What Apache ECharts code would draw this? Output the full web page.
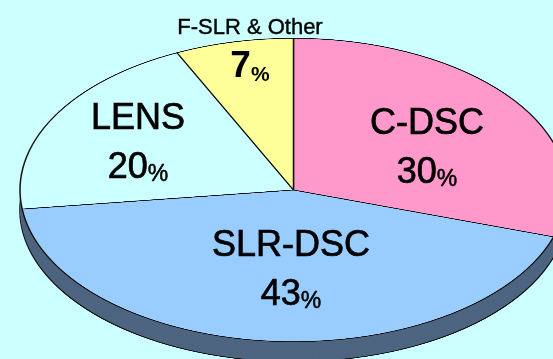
<!DOCTYPE html>
<html>
<head>
<meta charset="utf-8">
<script src="https://cdn.jsdelivr.net/npm/echarts/dist/echarts.min.js"></script>
<style>
  html, body { margin: 0; padding: 0; background: #ccffff; overflow: hidden; }
  #wrap { position: relative; width: 553px; height: 359px; overflow: hidden; background: #ccffff; }
  #disc { position: absolute; left: 0; top: 0; width: 553px; height: 680px; transform-origin: 0 0; }
  #labels { position: absolute; left: 0; top: 0; width: 553px; height: 359px; }
</style>
</head>
<body>
<div id="wrap">
  <div id="disc"></div>
  <div id="labels"></div>
</div>
<script>
// Market share by product segment
const categories = ['C-DSC', 'SLR-DSC', 'LENS', 'F-SLR & Other'];
const shares = [30, 43, 20, 7];

// Slice colours, in category order
const sliceColors = ['#ff99cc', '#99ccff', '#ccffff', '#ffff99'];
const sideColor = '#4e6581';

// Tilted disc: an ellipse with a visible rim
const CX = 293.5, CY = 190, RX = 273.5, RY = 151.7, DEPTH = 20;
const K = RY / RX;

// Label placement as fractions of the ellipse radii along each slice's mid-angle
const labelFx = [0.603, 0.097, 0.649, 0.73];
const labelFy = [0.488, 0.52, 0.663, 0.952];

const FONT = '"Liberation Sans", Arial, sans-serif';

// ---- disc layer: drawn as a circle, squashed vertically into an ellipse ----
const discEl = document.getElementById('disc');
discEl.style.transform = 'scaleY(' + K + ')';
const disc = echarts.init(discEl, null, { renderer: 'canvas', devicePixelRatio: 2 });

const pieData = categories.map((name, i) => ({
  name: name,
  value: shares[i],
  itemStyle: { color: sliceColors[i] }
}));

const series = [];
const LAYERS = 24;
for (let i = 0; i < LAYERS; i++) {
  const off = DEPTH * (LAYERS - i) / LAYERS;
  series.push({
    type: 'pie',
    silent: true,
    animation: false,
    z: 1,
    center: [CX, CY / K + off / K],
    radius: RX,
    startAngle: 90,
    clockwise: true,
    label: { show: false },
    labelLine: { show: false },
    itemStyle: {
      color: sideColor,
      borderColor: i === 0 ? '#111' : sideColor,
      borderWidth: i === 0 ? 1.6 : 0
    },
    data: pieData.map(d => ({ name: d.name, value: d.value }))
  });
}
series.push({
  type: 'pie',
  silent: true,
  animation: false,
  z: 2,
  center: [CX, CY / K],
  radius: RX,
  startAngle: 90,
  clockwise: true,
  label: { show: false },
  labelLine: { show: false },
  itemStyle: { borderColor: '#111', borderWidth: 1.5 },
  data: pieData
});

disc.setOption({ backgroundColor: '#ccffff', animation: false, series: series });

// ---- label layer: a transparent pie whose labels are moved onto the ellipse ----
const labels = echarts.init(document.getElementById('labels'), null, { renderer: 'canvas' });
const total = shares.reduce((a, b) => a + b, 0);

function midAngle(i) {
  let cum = 0;
  for (let j = 0; j < i; j++) cum += shares[j];
  return (cum + shares[i] / 2) / total * Math.PI * 2;
}

// slightly heavier glyphs via a thin outline in the text colour
const ink = { color: '#000', textBorderColor: '#000', textBorderWidth: 0.7 };

labels.setOption({
  backgroundColor: 'transparent',
  animation: false,
  series: [{
    type: 'pie',
    silent: true,
    center: [CX, CY],
    radius: RX,
    startAngle: 90,
    clockwise: true,
    itemStyle: { color: 'rgba(0,0,0,0)', borderWidth: 0 },
    labelLine: { show: false },
    label: {
      show: true,
      position: 'inside',
      color: '#000',
      fontFamily: FONT,
      formatter: function (p) {
        if (p.dataIndex === 3) {
          return '{fn|' + p.name + '}\n{fv|' + p.value + '}{fp|%}';
        }
        return '{n|' + p.name + '}\n{v|' + p.value + '}{p|%}';
      },
      rich: {
        n:  Object.assign({ fontFamily: FONT, fontSize: 36, lineHeight: 45 }, ink),
        v:  Object.assign({ fontFamily: FONT, fontSize: 36, lineHeight: 45, verticalAlign: 'bottom' }, ink),
        p:  Object.assign({ fontFamily: FONT, fontSize: 23, lineHeight: 38, verticalAlign: 'bottom' }, ink, { textBorderWidth: 0.5 }),
        fn: Object.assign({ fontFamily: FONT, fontSize: 22, lineHeight: 30 }, ink, { textBorderWidth: 0.4 }),
        fv: { fontFamily: FONT, fontSize: 37, lineHeight: 43, color: '#000', fontWeight: 'bold', verticalAlign: 'bottom' },
        fp: { fontFamily: FONT, fontSize: 21, lineHeight: 34, color: '#000', fontWeight: 'bold', verticalAlign: 'bottom' }
      }
    },
    labelLayout: function (params) {
      const i = params.dataIndex;
      const a = midAngle(i);
      return {
        x: CX + labelFx[i] * RX * Math.sin(a),
        y: CY - labelFy[i] * RY * Math.cos(a),
        align: 'center',
        verticalAlign: 'middle'
      };
    },
    data: categories.map((name, i) => ({ name: name, value: shares[i] }))
  }]
});
</script>
</body>
</html>
